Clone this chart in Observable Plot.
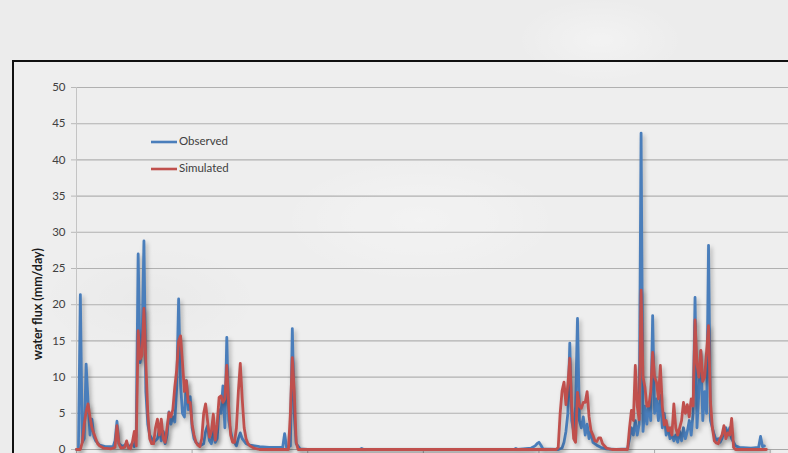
<!DOCTYPE html>
<html>
<head>
<meta charset="utf-8">
<script src="https://cdn.jsdelivr.net/npm/d3@7"></script>
<script src="https://cdn.jsdelivr.net/npm/@observablehq/plot@0.6"></script>
<style>
  html, body { margin: 0; padding: 0; width: 788px; height: 453px; overflow: hidden; }
  body {
    background: #ececec;
    background-image:
      radial-gradient(ellipse 120px 60px at 600px 40px, rgba(255,255,255,0.35), rgba(255,255,255,0) 70%),
      radial-gradient(ellipse 160px 80px at 150px 300px, rgba(0,0,0,0.02), rgba(0,0,0,0) 70%),
      radial-gradient(ellipse 200px 90px at 420px 220px, rgba(255,255,255,0.3), rgba(255,255,255,0) 70%);
    font-family: Lato, "Open Sans", sans-serif;
    position: relative;
  }
  #frame {
    position: absolute; left: 12px; top: 60px; width: 820px; height: 440px;
    border-top: 2px solid #111; border-left: 2px solid #111;
    background: rgba(255,255,255,0.12);
  }
  #chart { position: absolute; left: 0; top: 0; }
  .lines path { filter: drop-shadow(2px 3px 2px rgba(0,0,0,0.28)); }
</style>
</head>
<body>
<div id="frame"></div>
<div id="chart"></div>
<script>
// Y axis ticks (mm/day) and X ticks (day of record)
const yTicks = [0, 5, 10, 15, 20, 25, 30, 35, 40, 45, 50];
const xTicks = [0, 60, 120, 180, 240, 300, 360];
const seriesNames = ["Observed", "Simulated"];

// Observed daily water flux, key points
const obsDays = [0,1,2,3,4,5,6,7,8,9,10,12,15,19,20,21,22,24,26,27,29,30,31,32,33,34,35,36,37,38,40,42,43,44,45,46,47,48,49,50,51,52,53,54,55,56,57,58,59,60,61,62,64,66,67,68,69,70,71,72,73,74,75,76,77,78,79,80,81,82,83,84,85,86,88,90,95,100,107,108,109,111,112,113,114,116,120,147,148,149,160,227,228,229,236,238,239,240,241,242,250,252,253,254,255,256,257,258,259,260,261,262,263,264,265,266,267,268,270,272,275,280,286,287,288,289,290,291,292,293,294,295,296,297,298,299,300,301,302,303,304,305,306,307,308,309,310,311,312,313,314,315,316,317,318,319,320,321,322,323,324,325,326,327,328,329,330,331,332,333,334,335,336,337,338,339,340,341,342,344,350,354,355,356,357];
const obsVals = [0,0,21.4,1.0,1.5,11.8,6.5,2.0,4.2,1.8,1.2,0.6,0.4,0.4,1.2,3.9,0.8,0.4,0.8,0.3,0.8,0.4,2.0,27.0,12.0,14.5,28.8,8.0,3.5,2.0,1.0,1.5,2.8,1.2,2.5,0.8,2.0,5.2,3.5,4.5,3.8,8.5,20.8,9.0,5.0,4.5,9.5,5.5,7.3,3.0,1.5,1.0,0.5,0.8,2.5,3.3,1.2,0.8,2.5,1.0,1.5,5.5,5.0,8.8,3.0,15.5,4.0,2.5,1.2,1.0,0.5,1.5,2.3,1.5,0.8,0.6,0.4,0.3,0.3,2.2,0.3,0.5,16.7,5.0,0.8,0.1,0,0,0.15,0,0,0,0.15,0,0.2,0.5,0.8,1.0,0.6,0.1,0,0.2,1.0,2.5,5.0,14.7,4.0,2.5,6.0,18.1,4.0,3.0,4.5,2.0,3.5,1.5,2.5,1.0,0.6,0.3,0.1,0,0.1,1.5,3.0,2.0,4.0,2.0,3.5,43.7,2.5,6.0,3.5,6.5,4.0,18.5,5.0,7.0,4.0,7.5,3.0,5.0,2.0,3.0,1.5,2.0,1.2,2.0,1.0,2.5,1.2,3.0,1.5,2.5,4.0,2.0,5.0,21.0,3.0,8.0,13.6,4.0,8.0,5.0,28.2,4.0,3.0,2.0,1.2,1.5,1.0,1.5,2.5,3.0,2.0,3.0,1.5,1.0,0.5,0.3,0.2,0.3,1.8,0.4,0.5];

// Simulated daily water flux, key points
const simDays = [0,2,3,4,5,6,7,8,9,10,11,12,14,18,20,21,22,23,25,26,27,28,29,30,31,32,33,34,35,36,37,38,39,40,41,42,43,44,45,46,47,48,49,50,51,52,53,54,55,56,57,58,59,60,61,62,63,64,65,66,67,68,69,70,71,72,73,74,75,76,77,78,79,80,81,82,83,84,85,86,87,88,89,90,92,95,110,111,112,113,114,115,249,250,251,252,253,254,255,256,257,258,259,260,261,262,263,264,265,266,267,268,269,270,271,272,273,275,278,286,287,288,289,290,291,292,293,294,295,296,297,298,299,300,301,302,303,304,305,306,307,308,309,310,311,312,313,314,315,316,317,318,319,320,321,322,323,324,325,326,327,328,329,330,331,332,333,334,335,336,337,338,339,340,341,342,358];
const simVals = [0,0,1.0,3.5,5.2,6.3,4.5,3.0,2.2,1.5,0.8,0.5,0.2,0.1,0.3,3.3,0.8,0.2,0.3,1.2,0.2,0.1,1.0,2.5,0.5,16.4,12.5,13.0,19.5,12.0,5.0,1.5,0.8,0.8,3.0,4.2,2.0,4.2,1.5,1.0,3.0,5.1,4.5,5.5,8.6,11.0,15.0,15.7,12.0,8.0,9.5,6.5,6.5,3.5,2.0,1.0,0.6,0.4,1.5,5.0,6.3,4.0,1.7,2.5,4.9,1.3,3.5,7.2,7.4,6.5,7.0,11.6,6.0,2.0,1.0,1.0,3.0,8.0,11.9,7.0,3.0,1.5,0.8,0.5,0.2,0,0,5.0,12.7,8.0,1.0,0,0,0.3,5.0,8.1,9.3,6.2,9.0,12.6,6.0,1.5,1.0,7.9,6.0,5.7,6.5,6.5,8.0,4.5,2.6,2.0,1.2,1.1,1.6,1.6,0.8,0.2,0,0,3.0,5.4,4.0,11.6,6.0,4.1,22.0,10.0,8.6,6.0,6.0,8.0,13.4,10.0,9.3,7.0,11.6,6.0,3.4,4.0,2.6,3.0,2.0,6.3,3.0,2.0,3.0,4.0,6.5,5.0,6.2,4.5,7.0,6.0,17.9,11.8,10.0,13.7,9.4,10.0,13.6,17.1,6.6,3.0,1.2,0.9,0.8,1.5,2.0,3.3,1.5,2.3,2.0,4.3,0.3,0,0];

const observed = obsDays.map((d, i) => ({day: d, flux: obsVals[i]}));
const simulated = simDays.map((d, i) => ({day: d, flux: simVals[i]}));
const colors = {Observed: "#4a7ebb", Simulated: "#c0504d"};

const plot = Plot.plot({
  width: 788,
  height: 453,
  marginLeft: 76,
  marginRight: 0,
  marginTop: 87,
  marginBottom: 4,
  style: {background: "transparent", fontFamily: "Lato, 'Open Sans', sans-serif", fontSize: "11px", color: "#404040", overflow: "visible"},
  x: {domain: [0, 369.5]},
  y: {domain: [0, 50]},
  marks: [
    Plot.ruleY(yTicks.filter(v => v > 0), {stroke: "#b0b0b0", strokeWidth: 1.1}),
    Plot.ruleY([0], {stroke: "#a8a8a8", strokeWidth: 1.1}),
    Plot.ruleX([0], {stroke: "#c4c4c4", strokeWidth: 1}),
    Plot.axisY({ticks: yTicks, tickSize: 5, tickPadding: 6, label: null, stroke: "#b8b8b8", fill: "#404040", fontSize: 11.5}),
    Plot.axisX({ticks: xTicks, tickSize: 5, tickFormat: () => "", label: null, stroke: "#a8a8a8"}),
    Plot.line(observed, {x: "day", y: "flux", stroke: colors.Observed, strokeWidth: 2.8, strokeLinejoin: "round", className: "lines"}),
    Plot.line(simulated, {x: "day", y: "flux", stroke: colors.Simulated, strokeWidth: 2.8, strokeLinejoin: "round", className: "lines"})
  ]
});

const svg = d3.select(plot);
// y-axis title
svg.append("text")
  .attr("transform", "translate(39,304) rotate(-90)")
  .attr("text-anchor", "middle")
  .attr("dominant-baseline", "middle")
  .attr("font-weight", "bold")
  .attr("font-size", 12.5)
  .attr("fill", "#1a1a1a")
  .text("water flux (mm/day)");

// legend
const leg = svg.append("g");
seriesNames.forEach((name, i) => {
  const y = 142 + i * 27;
  leg.append("line").attr("x1", 151).attr("x2", 177).attr("y1", y).attr("y2", y)
    .attr("stroke", colors[name]).attr("stroke-width", 2.6);
  leg.append("text").attr("x", 179).attr("y", y)
    .attr("text-anchor", "start")
    .attr("dominant-baseline", "middle")
    .attr("font-size", 11.5).attr("fill", "#404040").text(name);
});

document.getElementById("chart").appendChild(plot);
</script>
</body>
</html>
